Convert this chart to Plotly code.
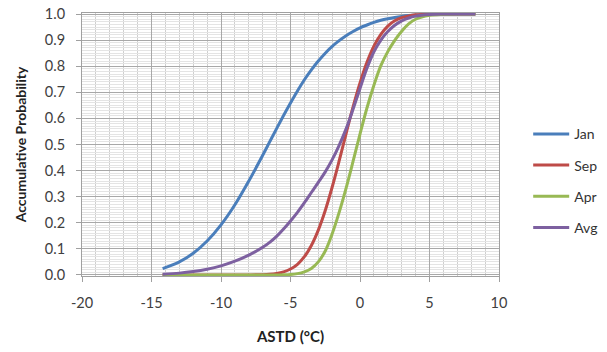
import plotly.graph_objects as go

# Common x grid (ASTD, °C)
astd = [-14.2, -13, -12, -11, -10, -9, -8, -7, -6.5, -6, -5.5, -5, -4.5, -4,
        -3.5, -3, -2.5, -2, -1.5, -1, -0.5, 0, 0.5, 1, 1.5, 2, 2.5, 3, 3.5, 4,
        5, 6, 7, 8, 8.3]

jan = [0.024, 0.050, 0.083, 0.130, 0.192, 0.269, 0.360, 0.459, 0.510, 0.561,
       0.611, 0.659, 0.705, 0.748, 0.786, 0.820, 0.850, 0.876, 0.898, 0.917,
       0.933, 0.947, 0.958, 0.968, 0.976, 0.982, 0.987, 0.991, 0.994, 0.996,
       0.998, 0.999, 1.0, 1.0, 1.0]
sep = [0.0, 0.0, 0.0, 0.0, 0.0, 0.0, 0.0002, 0.0011, 0.0026, 0.0057,
       0.0119, 0.0228, 0.041, 0.070, 0.113, 0.172, 0.247, 0.337, 0.437, 0.542,
       0.644, 0.736, 0.815, 0.877, 0.922, 0.954, 0.974, 0.986, 0.993, 0.997,
       0.999, 1.0, 1.0, 1.0, 1.0]
apr = [0.0, 0.0, 0.0, 0.0, 0.0, 0.0, 0.0, 0.0, 0.0, 0.0002,
       0.0006, 0.0018, 0.005, 0.012, 0.025, 0.050, 0.092, 0.158, 0.240, 0.333,
       0.435, 0.540, 0.640, 0.727, 0.802, 0.856, 0.899, 0.934, 0.962, 0.980,
       0.995, 0.999, 1.0, 1.0, 1.0]
avg = [0.003, 0.007, 0.013, 0.022, 0.035, 0.053, 0.076, 0.106, 0.125, 0.148,
       0.176, 0.207, 0.240, 0.277, 0.316, 0.355, 0.395, 0.442, 0.497, 0.560,
       0.635, 0.715, 0.792, 0.855, 0.900, 0.933, 0.957, 0.974, 0.985, 0.992,
       0.998, 1.0, 1.0, 1.0, 1.0]

series_names = ["Jan", "Sep", "Apr", "Avg"]
series_values = [jan, sep, apr, avg]
series_colors = ["#4A7EBB", "#BE4B48", "#98B954", "#7D60A0"]

x_ticks = [-20, -15, -10, -5, 0, 5, 10]
y_ticks = [0.0, 0.1, 0.2, 0.3, 0.4, 0.5, 0.6, 0.7, 0.8, 0.9, 1.0]

FONT = "Lato, Carlito, Calibri, 'Open Sans', sans-serif"

fig = go.Figure()
for name, vals, col in zip(series_names, series_values, series_colors):
    fig.add_trace(go.Scatter(
        x=astd, y=vals, name=name, mode="lines",
        line=dict(color=col, width=3, shape="spline", smoothing=1.0),
        legendgroup=name,
    ))

fig.update_layout(
    width=607, height=352,
    margin=dict(l=82, r=108, t=13, b=76, autoexpand=False),
    paper_bgcolor="white", plot_bgcolor="white",
    font=dict(family=FONT, size=14, color="#404040"),
    showlegend=True,
    legend=dict(
        x=1.07, xanchor="left", y=0.362, yanchor="middle",
        traceorder="grouped", tracegroupgap=10,
        font=dict(family=FONT, size=14, color="#333333"),
        itemwidth=36, bgcolor="rgba(0,0,0,0)",
    ),
    xaxis=dict(
        range=[-20, 10], automargin=False,
        tickvals=x_ticks, ticktext=[str(v) for v in x_ticks],
        ticks="outside", ticklen=5, tickcolor="#a0a0a0",
        ticklabelstandoff=9,
        tickfont=dict(family=FONT, size=14.5, color="#404040"),
        showgrid=True, gridcolor="#a8a8a8", gridwidth=1,
        showline=True, linecolor="#a0a0a0", linewidth=1, mirror=True,
        zeroline=False,
        minor=dict(dtick=1, showgrid=True, gridcolor="#cfcfcf", gridwidth=1),
        title=dict(text="<b>ASTD (°C)</b>", standoff=21,
                   font=dict(family=FONT, size=15, color="#222222")),
    ),
    yaxis=dict(
        range=[-0.004, 1.004], automargin=False,
        tickvals=y_ticks, ticktext=[f"{v:.1f}" for v in y_ticks],
        ticks="outside", ticklen=5, tickcolor="#a0a0a0",
        ticklabelstandoff=8,
        tickfont=dict(family=FONT, size=14.5, color="#404040"),
        showgrid=True, gridcolor="#a8a8a8", gridwidth=1,
        showline=True, linecolor="#a0a0a0", linewidth=1, mirror=True,
        zeroline=False,
        minor=dict(dtick=0.01, showgrid=True, gridcolor="#e4e4e4", gridwidth=1),
        title=dict(text="<b>Accumulative Probability</b>", standoff=14,
                   font=dict(family=FONT, size=14, color="#222222")),
    ),
)

fig.write_html("out.html")
